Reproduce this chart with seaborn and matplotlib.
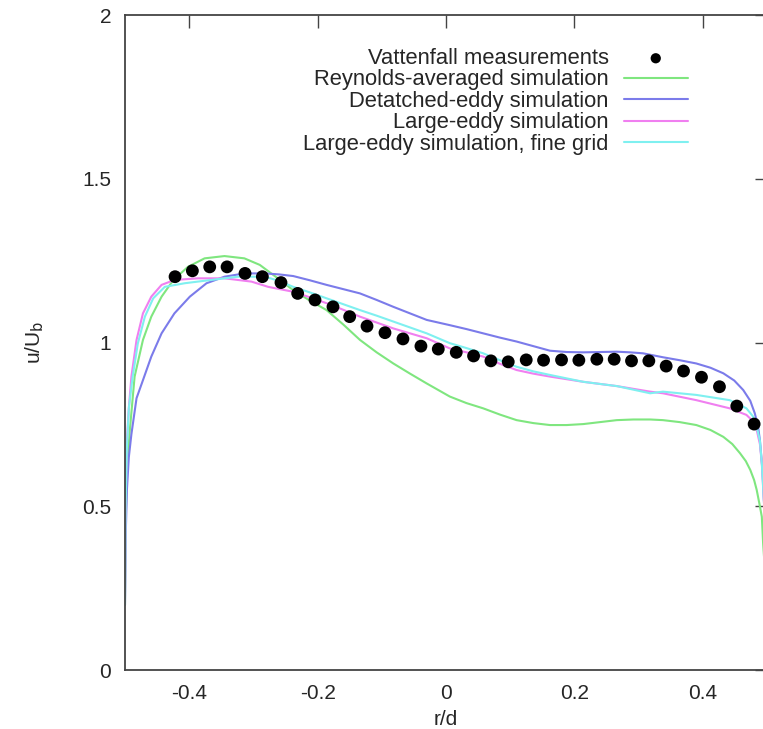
import numpy as np
import pandas as pd
import matplotlib
matplotlib.use('Agg')
import matplotlib.pyplot as plt
import seaborn as sns

# medidas (puntos negros)
x_meas = [-0.422, -0.395, -0.368, -0.341, -0.313, -0.286, -0.257, -0.231, -0.204, -0.176,
          -0.150, -0.123, -0.095, -0.067, -0.039, -0.012, 0.016, 0.043, 0.070, 0.097,
          0.125, 0.152, 0.180, 0.207, 0.235, 0.262, 0.289, 0.316, 0.343, 0.370,
          0.398, 0.426, 0.453, 0.480]
y_meas = [1.201, 1.219, 1.231, 1.231, 1.211, 1.201, 1.183, 1.150, 1.130, 1.109,
          1.079, 1.050, 1.030, 1.011, 0.989, 0.980, 0.970, 0.959, 0.944, 0.941,
          0.947, 0.946, 0.947, 0.946, 0.949, 0.949, 0.944, 0.944, 0.928, 0.913,
          0.894, 0.865, 0.806, 0.751]

# Reynolds-averaged (verde)
x_rans = [-0.5, -0.499, -0.497, -0.493, -0.485, -0.472, -0.459, -0.443, -0.425, -0.402,
          -0.376, -0.345, -0.314, -0.29, -0.264, -0.238, -0.212, -0.186, -0.160, -0.134,
          -0.108, -0.082, -0.056, -0.030, 0.006, 0.032, 0.058, 0.084, 0.110, 0.136,
          0.162, 0.188, 0.214, 0.240, 0.266, 0.292, 0.318, 0.338, 0.364, 0.39,
          0.412, 0.432, 0.446, 0.458, 0.467, 0.474, 0.480, 0.484, 0.488, 0.492,
          0.494, 0.497, 0.5]
y_rans = [0.2, 0.45, 0.6, 0.72, 0.896, 1.008, 1.079, 1.14, 1.19, 1.231,
          1.257, 1.264, 1.257, 1.237, 1.199, 1.160, 1.128, 1.099, 1.055, 1.008,
          0.970, 0.936, 0.905, 0.875, 0.835, 0.815, 0.799, 0.780, 0.763, 0.754,
          0.748, 0.748, 0.751, 0.757, 0.763, 0.765, 0.765, 0.763, 0.757, 0.748,
          0.733, 0.712, 0.690, 0.662, 0.638, 0.611, 0.580, 0.55, 0.51, 0.468,
          0.387, 0.3, 0.2]

# Detached-eddy (azul)
x_des = [-0.5, -0.499, -0.497, -0.494, -0.49, -0.482, -0.472, -0.459, -0.443, -0.423,
         -0.399, -0.373, -0.345, -0.314, -0.282, -0.260, -0.238, -0.212, -0.186, -0.160,
         -0.134, -0.108, -0.082, -0.056, -0.030, 0.006, 0.032, 0.058, 0.084, 0.110,
         0.136, 0.162, 0.188, 0.214, 0.240, 0.266, 0.287, 0.307, 0.338, 0.364,
         0.39, 0.412, 0.432, 0.449, 0.463, 0.474, 0.481, 0.486, 0.489, 0.493,
         0.497, 0.5]
y_des = [0.2, 0.4, 0.55, 0.65, 0.72, 0.83, 0.885, 0.957, 1.028, 1.089,
         1.14, 1.181, 1.201, 1.211, 1.211, 1.208, 1.203, 1.190, 1.176, 1.163,
         1.150, 1.130, 1.109, 1.089, 1.069, 1.053, 1.041, 1.028, 1.015, 1.003,
         0.989, 0.975, 0.971, 0.970, 0.971, 0.972, 0.970, 0.967, 0.955, 0.946,
         0.936, 0.923, 0.906, 0.884, 0.855, 0.822, 0.784, 0.745, 0.702, 0.611,
         0.45, 0.2]

# Large-eddy (rosa)
x_les = [-0.5, -0.499, -0.497, -0.494, -0.490, -0.482, -0.472, -0.459, -0.443, -0.423,
         -0.386, -0.345, -0.303, -0.277, -0.238, -0.212, -0.186, -0.160, -0.134, -0.108,
         -0.082, -0.056, -0.030, 0.006, 0.032, 0.058, 0.084, 0.110, 0.136, 0.162,
         0.214, 0.266, 0.318, 0.338, 0.39, 0.442, 0.468, 0.478, 0.484, 0.489,
         0.492, 0.497, 0.5]
y_les = [0.2, 0.5, 0.7, 0.8, 0.896, 1.008, 1.089, 1.14, 1.176, 1.191,
         1.196, 1.196, 1.186, 1.170, 1.155, 1.138, 1.120, 1.100, 1.079, 1.061,
         1.043, 1.028, 1.013, 0.982, 0.970, 0.957, 0.935, 0.916, 0.905, 0.896,
         0.880, 0.867, 0.850, 0.845, 0.824, 0.799, 0.779, 0.760, 0.733, 0.690,
         0.631, 0.45, 0.2]

# Large-eddy fine grid (cian)
x_fine = [-0.5, -0.499, -0.497, -0.494, -0.488, -0.480, -0.469, -0.456, -0.438, -0.407,
          -0.366, -0.324, -0.282, -0.260, -0.238, -0.212, -0.186, -0.160, -0.134, -0.108,
          -0.082, -0.056, -0.030, 0.006, 0.032, 0.058, 0.084, 0.110, 0.136, 0.162,
          0.214, 0.266, 0.318, 0.338, 0.39, 0.442, 0.468, 0.478, 0.484, 0.489,
          0.492, 0.497, 0.5]
y_fine = [0.2, 0.5, 0.68, 0.8, 0.896, 0.997, 1.079, 1.135, 1.170, 1.181,
          1.191, 1.201, 1.201, 1.188, 1.170, 1.153, 1.135, 1.117, 1.099, 1.082,
          1.064, 1.046, 1.028, 0.998, 0.983, 0.967, 0.946, 0.926, 0.912, 0.901,
          0.880, 0.867, 0.845, 0.850, 0.840, 0.824, 0.799, 0.775, 0.743, 0.700,
          0.631, 0.45, 0.2]

etiquetas = ['Reynolds-averaged simulation', 'Detatched-eddy simulation',
             'Large-eddy simulation', 'Large-eddy simulation, fine grid']
colores = ['#7fe67f', '#7b7bea', '#f07ff0', '#7ff0f0']

df_curvas = pd.concat([
    pd.DataFrame({'r': x_rans, 'u': y_rans, 'caso': etiquetas[0]}),
    pd.DataFrame({'r': x_des, 'u': y_des, 'caso': etiquetas[1]}),
    pd.DataFrame({'r': x_les, 'u': y_les, 'caso': etiquetas[2]}),
    pd.DataFrame({'r': x_fine, 'u': y_fine, 'caso': etiquetas[3]}),
])
df_meas = pd.DataFrame({'r': x_meas, 'u': y_meas})

sns.set_style('white')
plt.rcParams['font.family'] = ['Liberation Sans', 'DejaVu Sans']

fig = plt.figure(figsize=(7.63, 7.29), dpi=100)
ax = fig.add_axes([0.1638, 0.0809, 0.8414, 0.8985])

sns.scatterplot(data=df_meas, x='r', y='u', color='black', s=85, edgecolor='none',
                label='Vattenfall measurements', ax=ax, zorder=3)
sns.lineplot(data=df_curvas, x='r', y='u', hue='caso', palette=colores,
             sort=False, estimator=None, linewidth=1.5, ax=ax)

ax.set_xlim(-0.5, 0.5)
ax.set_ylim(0, 2)
ax.set_xticks([-0.4, -0.2, 0, 0.2, 0.4])
ax.set_xticklabels(['-0.4', '-0.2', '0', '0.2', '0.4'])
ax.set_yticks([0, 0.5, 1, 1.5, 2])
ax.set_yticklabels(['0', '0.5', '1', '1.5', '2'])
ax.tick_params(direction='in', length=9, width=1, labelsize=15, color='#444444',
               top=True, right=True, pad=10)
for s in ax.spines.values():
    s.set_color('#444444')
    s.set_linewidth(1.3)

ax.set_xlabel('r/d', fontsize=15, labelpad=5)
ax.set_ylabel('u/U$_\\mathrm{b}$', fontsize=15, labelpad=26)

h, l = ax.get_legend_handles_labels()
ax.legend(h, l, loc='upper right', bbox_to_anchor=(0.890, 0.963), frameon=False,
          markerfirst=False, fontsize=15.8, handlelength=2.9, labelspacing=0.02,
          handletextpad=0.7, borderaxespad=0, markerscale=0.8)

fig.savefig('out.png', dpi=100)
